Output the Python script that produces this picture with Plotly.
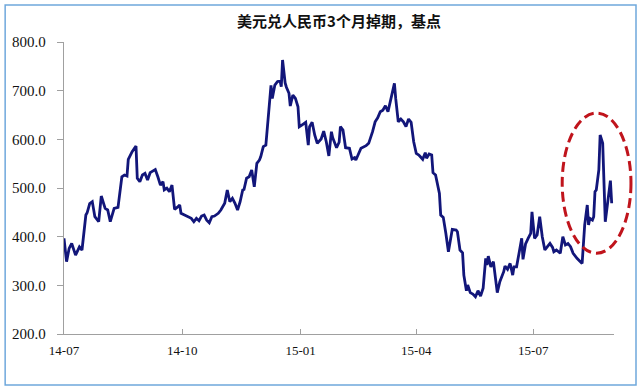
import pandas as pd
import plotly.graph_objects as go

title_text = "美元兑人民币3个月掉期，基点"

dates = [
    "2014-07-01", "2014-07-03", "2014-07-05", "2014-07-07", "2014-07-10", "2014-07-13", "2014-07-15", "2014-07-16",
    "2014-07-18", "2014-07-19", "2014-07-21", "2014-07-23", "2014-07-25", "2014-07-28", "2014-07-30", "2014-08-02",
    "2014-08-04", "2014-08-06", "2014-08-09", "2014-08-12", "2014-08-15", "2014-08-17", "2014-08-19", "2014-08-20",
    "2014-08-23", "2014-08-26", "2014-08-27", "2014-08-29", "2014-08-31", "2014-09-02", "2014-09-04", "2014-09-06",
    "2014-09-10", "2014-09-12", "2014-09-14", "2014-09-16", "2014-09-17", "2014-09-19", "2014-09-21", "2014-09-23",
    "2014-09-25", "2014-09-27", "2014-09-29", "2014-09-30", "2014-10-04", "2014-10-08", "2014-10-10", "2014-10-12",
    "2014-10-14", "2014-10-16", "2014-10-18", "2014-10-20", "2014-10-22", "2014-10-24", "2014-10-26", "2014-10-29",
    "2014-10-31", "2014-11-03", "2014-11-05", "2014-11-07", "2014-11-09", "2014-11-11", "2014-11-13", "2014-11-15",
    "2014-11-17", "2014-11-18", "2014-11-20", "2014-11-22", "2014-11-24", "2014-11-26", "2014-11-28", "2014-11-30",
    "2014-12-01", "2014-12-03", "2014-12-05", "2014-12-06", "2014-12-08", "2014-12-09", "2014-12-10", "2014-12-12",
    "2014-12-14", "2014-12-16", "2014-12-17", "2014-12-18", "2014-12-20", "2014-12-21", "2014-12-23", "2014-12-24",
    "2014-12-26", "2014-12-28", "2014-12-30", "2014-12-31", "2015-01-01", "2015-01-02", "2015-01-05", "2015-01-07",
    "2015-01-08", "2015-01-10", "2015-01-12", "2015-01-14", "2015-01-17", "2015-01-19", "2015-01-21", "2015-01-23",
    "2015-01-25", "2015-01-26", "2015-01-29", "2015-01-31", "2015-02-01", "2015-02-03", "2015-02-05", "2015-02-08",
    "2015-02-10", "2015-02-12", "2015-02-13", "2015-02-17", "2015-02-21", "2015-02-23", "2015-02-26", "2015-02-28",
    "2015-03-02", "2015-03-04", "2015-03-06", "2015-03-08", "2015-03-10", "2015-03-12", "2015-03-15", "2015-03-16",
    "2015-03-18", "2015-03-20", "2015-03-22", "2015-03-24", "2015-03-26", "2015-03-28", "2015-03-30", "2015-04-01",
    "2015-04-03", "2015-04-06", "2015-04-08", "2015-04-09", "2015-04-11", "2015-04-13", "2015-04-14", "2015-04-16",
    "2015-04-19", "2015-04-20", "2015-04-22", "2015-04-24", "2015-04-26", "2015-04-29", "2015-05-02", "2015-05-03",
    "2015-05-05", "2015-05-07", "2015-05-08", "2015-05-10", "2015-05-11", "2015-05-13", "2015-05-15", "2015-05-17",
    "2015-05-19", "2015-05-21", "2015-05-23", "2015-05-25", "2015-05-26", "2015-05-27", "2015-05-29", "2015-05-31",
    "2015-06-02", "2015-06-03", "2015-06-05", "2015-06-08", "2015-06-09", "2015-06-11", "2015-06-13", "2015-06-15",
    "2015-06-16", "2015-06-18", "2015-06-20", "2015-06-22", "2015-06-23", "2015-06-25", "2015-06-27", "2015-06-29",
    "2015-06-30", "2015-07-02", "2015-07-04", "2015-07-06", "2015-07-08", "2015-07-10", "2015-07-12", "2015-07-14",
    "2015-07-16", "2015-07-17", "2015-07-19", "2015-07-22", "2015-07-24", "2015-07-26", "2015-07-28", "2015-07-30",
    "2015-08-01", "2015-08-04", "2015-08-08", "2015-08-09", "2015-08-10", "2015-08-12", "2015-08-13", "2015-08-14",
    "2015-08-16", "2015-08-17", "2015-08-18", "2015-08-19", "2015-08-21", "2015-08-22", "2015-08-24", "2015-08-26",
    "2015-08-28", "2015-08-30", "2015-08-31",
]

swap_points = [
    396.6, 348.6, 376.0, 386.0, 362.0, 379.0, 372.6, 393.0,
    444.5, 449.0, 468.0, 472.0, 441.0, 430.7, 483.5, 458.0,
    454.8, 430.7, 458.0, 460.0, 523.0, 526.7, 524.6, 559.0,
    574.6, 586.0, 520.0, 513.0, 526.7, 530.0, 516.4, 531.5,
    538.0, 523.0, 506.0, 513.0, 496.0, 499.6, 492.4, 506.0,
    456.0, 460.0, 465.0, 448.0, 443.0, 437.7, 430.7, 437.7,
    432.8, 442.4, 444.5, 434.0, 428.7, 441.0, 442.4, 448.0,
    454.8, 468.6, 496.0, 471.8, 478.7, 468.6, 454.8, 471.8,
    496.0, 497.0, 520.0, 523.0, 537.0, 502.6, 550.7, 557.5,
    564.0, 585.0, 588.0, 626.0, 680.0, 711.0, 684.0, 711.6,
    718.4, 720.5, 708.0, 763.0, 716.0, 707.0, 694.6, 668.5,
    691.0, 684.0, 667.0, 626.0, 627.0, 629.4, 635.0, 588.0,
    626.0, 635.0, 609.0, 591.8, 600.6, 617.0, 595.0, 566.0,
    615.7, 603.4, 582.8, 594.0, 626.0, 619.0, 582.8, 581.6,
    559.6, 562.3, 557.5, 581.6, 587.0, 591.8, 615.7, 636.0,
    644.3, 656.7, 660.0, 669.0, 656.7, 680.8, 715.0, 684.0,
    636.0, 641.8, 636.0, 626.0, 641.8, 635.0, 595.0, 571.0,
    567.8, 559.0, 572.6, 561.0, 569.8, 567.8, 531.5, 526.7,
    489.0, 444.5, 439.7, 407.0, 369.0, 415.0, 413.7, 410.0,
    372.6, 367.0, 321.0, 289.0, 300.7, 285.0, 282.0, 276.6,
    289.0, 278.0, 294.0, 355.5, 341.8, 360.0, 338.0, 348.6,
    312.4, 285.0, 307.5, 328.0, 339.7, 333.0, 345.0, 321.0,
    338.0, 338.0, 367.0, 396.6, 353.5, 385.0, 396.6, 407.0,
    451.0, 396.6, 403.4, 441.0, 400.0, 372.6, 379.4, 386.0,
    378.0, 369.0, 372.6, 365.8, 400.0, 383.0, 386.0, 379.4,
    365.8, 355.5, 345.0, 386.0, 424.0, 465.0, 424.0, 437.7,
    434.0, 441.0, 492.4, 496.0, 537.0, 609.0, 591.8, 430.7,
    475.3, 515.0, 468.6,
]

# highlight ellipse around the Aug-2015 spike (data coordinates)
ellipse_x = ["2015-07-23 12:00", "2015-09-15"]
ellipse_y = [366.0, 654.0]

x_range = ["2014-07-01", "2015-09-01 19:00"]
y_range = [200, 800]

serif = "Liberation Serif, Times New Roman, serif"

# ellipse extends past the plot area, so place it in paper units derived from the axis ranges
t0, t1 = pd.Timestamp(x_range[0]), pd.Timestamp(x_range[1])
def x_to_paper(d):
    return (pd.Timestamp(d) - t0) / (t1 - t0)
def y_to_paper(v):
    return (v - y_range[0]) / (y_range[1] - y_range[0])

fig = go.Figure()
fig.add_trace(go.Scatter(
    x=dates, y=swap_points, mode="lines",
    line=dict(color="#12167a", width=2.8),
    hoverinfo="skip", showlegend=False,
))

fig.add_shape(
    type="circle", xref="paper", yref="paper",
    x0=x_to_paper(ellipse_x[0]), x1=x_to_paper(ellipse_x[1]),
    y0=y_to_paper(ellipse_y[0]), y1=y_to_paper(ellipse_y[1]),
    line=dict(color="#c0141c", width=3, dash="10px,5px"),
)

# light blue frame around the whole picture
fig.add_shape(
    type="rect", xref="paper", yref="paper",
    x0=-0.107, x1=1.04, y0=-0.175, y1=1.127,
    line=dict(color="#6fa8dc", width=1.5),
)

fig.update_layout(
    width=640, height=390,
    margin=dict(l=62, r=26, t=42, b=56),
    paper_bgcolor="white", plot_bgcolor="white",
    title=dict(
        text="<b>" + title_text + "</b>",
        x=0.5, xref="paper", xanchor="center",
        y=0.944, yref="container", yanchor="middle",
        font=dict(family="Noto Sans CJK SC", size=15, color="#111111"),
    ),
)

fig.update_xaxes(
    type="date", range=x_range,
    tick0="2014-07-01", dtick="M3", tickformat="%y-%m",
    showgrid=False, zeroline=False,
    showline=True, linecolor="#a0a0a0", linewidth=1.2,
    ticks="inside", ticklen=5, tickcolor="#a0a0a0",
    ticklabelstandoff=4,
    tickfont=dict(family=serif, size=13, color="#111111"),
)
fig.update_yaxes(
    range=y_range, dtick=100, tickformat=".1f",
    showgrid=False, zeroline=False,
    showline=True, linecolor="#a0a0a0", linewidth=1.2,
    ticks="outside", ticklen=6, tickcolor="#a0a0a0",
    ticklabelstandoff=8,
    tickfont=dict(family=serif, size=15, color="#111111"),
)

fig.write_html(
    "out.html",
    config={"displayModeBar": False, "staticPlot": True},
    post_script="document.body.style.margin='0';",
)
